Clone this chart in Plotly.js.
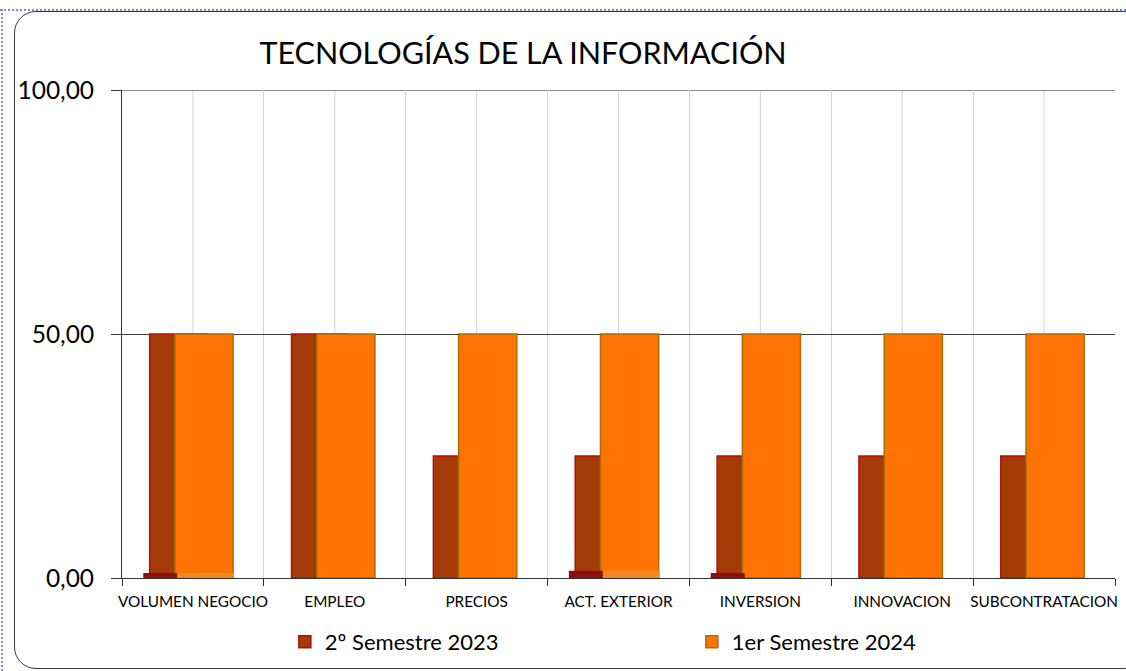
<!DOCTYPE html>
<html>
<head>
<meta charset="utf-8">
<script src="https://cdn.plot.ly/plotly-3.0.1.min.js"></script>
<style>
  html, body { margin: 0; padding: 0; background: #ffffff; }
  #wrap { position: relative; width: 1126px; height: 671px; overflow: hidden; }
  #chart { position: absolute; left: 0; top: 0; width: 1126px; height: 671px; }
  #frame { position: absolute; left: 14px; top: 11px; width: 1130px; height: 656px;
           border: 1px solid #3a3a3a; border-radius: 22px; pointer-events: none; }
  #dotTop { position: absolute; left: 0; top: 9px; width: 1126px; height: 0;
            border-top: 2px dotted #7d8fbf; pointer-events: none; }
  #dotLeft { position: absolute; left: 1px; top: 9px; width: 0; height: 662px;
             border-left: 2px dotted #7d8fbf; pointer-events: none; }
</style>
</head>
<body>
<div id="wrap">
  <div id="chart"></div>
  <div id="dotTop"></div>
  <div id="dotLeft"></div>
  <div id="frame"></div>
</div>
<script>
// ---- data ----
const categories = ['VOLUMEN NEGOCIO', 'EMPLEO', 'PRECIOS', 'ACT. EXTERIOR', 'INVERSION', 'INNOVACION', 'SUBCONTRATACION'];
const seriesNames = ['2º Semestre 2023', '1er Semestre 2024'];
const sem2023 = [50, 50, 25, 25, 25, 25, 25];
const sem2024 = [50, 50, 50, 50, 50, 50, 50];
// small flat front bars visible at the floor of the chart
const base2023 = [1, 0, 0, 1.5, 1, 0, 0];
const base2024 = [1, 0, 0, 1.5, 0, 0, 0];
const yTickVals = [0, 50, 100];

const FONT = 'Lato, "Open Sans", "DejaVu Sans", sans-serif';
const DARK = '#A33A08';
const ORANGE = '#FF7304';

const traces = [
  {
    type: 'bar', name: seriesNames[0], x: categories, y: sem2023,
    width: 0.41, offset: -0.305,
    marker: { color: DARK, line: { color: '#B80D0D', width: 1.5 } },
    hoverinfo: 'skip'
  },
  {
    type: 'bar', name: seriesNames[1], x: categories, y: sem2024,
    width: 0.41, offset: -0.127,
    marker: { color: ORANGE, line: { color: '#A86E00', width: 1.5 } },
    hoverinfo: 'skip'
  },
  {
    type: 'bar', name: seriesNames[0] + ' base', x: categories, y: base2023,
    width: 0.24, offset: -0.35, showlegend: false,
    marker: { color: '#8E0E0E', line: { width: 0 } },
    hoverinfo: 'skip'
  },
  {
    type: 'bar', name: seriesNames[1] + ' base', x: categories, y: base2024,
    width: 0.40, offset: -0.11, showlegend: false,
    marker: { color: '#F08A20', line: { width: 0 } },
    hoverinfo: 'skip'
  }
];

const shapes = categories.map(c => ({
  type: 'line', xref: 'x', yref: 'paper', x0: c, x1: c, y0: 0, y1: 1,
  line: { color: '#d4d4d4', width: 1 }, layer: 'below'
}));
shapes.push({
  type: 'line', xref: 'paper', yref: 'y', x0: 0, x1: 1, y0: 100, y1: 100,
  line: { color: '#8c8c8c', width: 2 }, layer: 'between'
});

const layout = {
  width: 1126, height: 671,
  margin: { l: 122, r: 11, t: 90, b: 93, autoexpand: false },
  paper_bgcolor: 'rgba(0,0,0,0)',
  plot_bgcolor: 'rgba(0,0,0,0)',
  separators: ',.',
  barmode: 'overlay',
  showlegend: true,
  font: { family: FONT, color: '#000000' },
  title: {
    text: 'TECNOLOGÍAS DE LA INFORMACIÓN',
    font: { family: FONT, size: 30.5, color: '#000000' },
    x: 0.4645, xref: 'container', xanchor: 'center',
    y: 0.921, yref: 'container', yanchor: 'middle'
  },
  xaxis: {
    type: 'category',
    range: [-0.5, 6.5],
    tickson: 'boundaries',
    tickangle: 0,
    automargin: false,
    showgrid: true, gridcolor: '#d4d4d4', gridwidth: 1,
    showline: true, linecolor: '#333333', linewidth: 1,
    ticks: 'outside', ticklen: 7, tickcolor: '#333333',
    tickfont: { family: FONT, size: 15.3, color: '#000000' },
    ticklabelstandoff: 10,
    zeroline: false
  },
  yaxis: {
    range: [0, 100],
    tickvals: yTickVals,
    tickformat: '.2f',
    automargin: false,
    showgrid: true, gridcolor: '#3c3c3c', gridwidth: 1,
    showline: true, linecolor: '#333333', linewidth: 1,
    ticks: 'outside', ticklen: 10, tickcolor: '#333333',
    tickfont: { family: FONT, size: 24.5, color: '#000000' },
    ticklabelstandoff: 12,
    zeroline: false
  },
  legend: {
    orientation: 'h',
    x: 0.164, xanchor: 'left',
    y: -0.131, yanchor: 'middle',
    entrywidth: 362, entrywidthmode: 'pixels',
    font: { family: FONT, size: 22, color: '#000000' },
    bgcolor: 'rgba(0,0,0,0)'
  },
  shapes: shapes
};

Plotly.newPlot('chart', traces, layout, { displayModeBar: false, staticPlot: true });
</script>
</body>
</html>
